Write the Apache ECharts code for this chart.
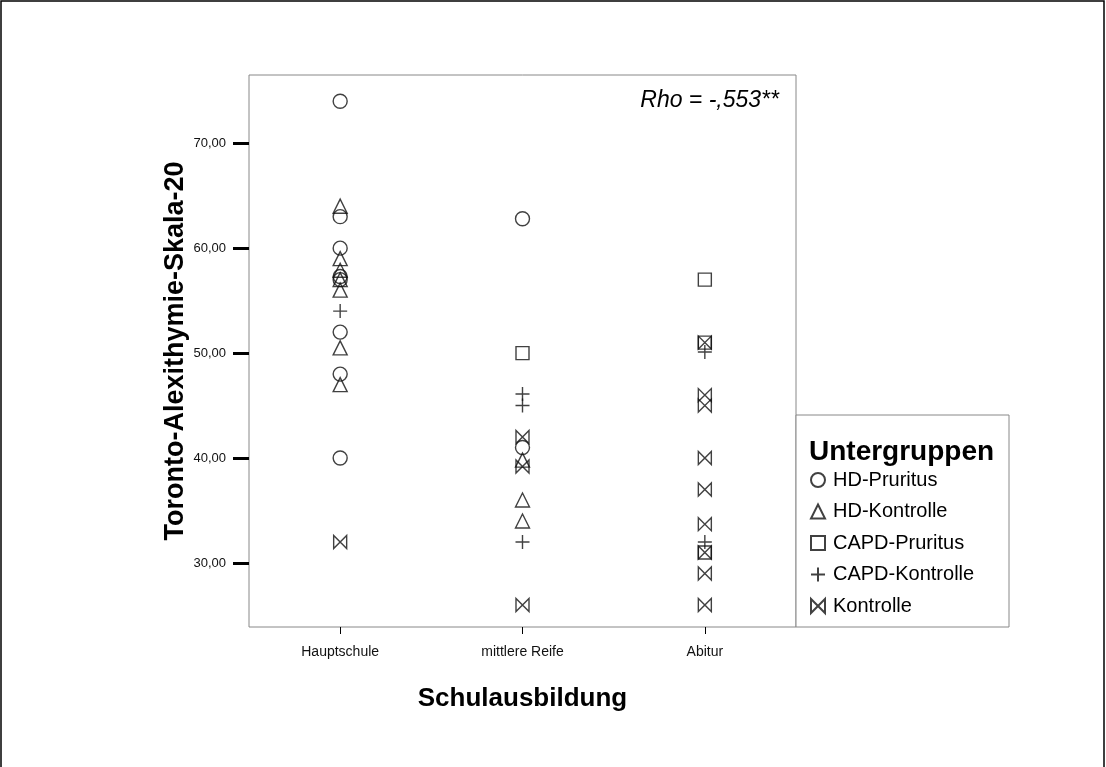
<!DOCTYPE html>
<html>
<head>
<meta charset="utf-8">
<script src="https://cdn.jsdelivr.net/npm/echarts@6/dist/echarts.min.js"></script>
<style>
html,body{margin:0;padding:0;background:#fff;}
#chart{width:1106px;height:767px;}
</style>
</head>
<body>
<div id="chart"></div>
<script>
// ---- data ----
var categories = ['Hauptschule', 'mittlere Reife', 'Abitur'];
var yTicks = [30, 40, 50, 60, 70];
var seriesNames = ['HD-Pruritus', 'HD-Kontrolle', 'CAPD-Pruritus', 'CAPD-Kontrolle', 'Kontrolle'];
var hdPruritus = [
  ['Hauptschule', 74], ['Hauptschule', 63], ['Hauptschule', 60], ['Hauptschule', 57.3],
  ['Hauptschule', 57], ['Hauptschule', 52], ['Hauptschule', 48], ['Hauptschule', 40],
  ['mittlere Reife', 62.8], ['mittlere Reife', 41]
];
var hdKontrolle = [
  ['Hauptschule', 64], ['Hauptschule', 59], ['Hauptschule', 57.9], ['Hauptschule', 57],
  ['Hauptschule', 56], ['Hauptschule', 50.5], ['Hauptschule', 47],
  ['mittlere Reife', 39.8], ['mittlere Reife', 36], ['mittlere Reife', 34]
];
var capdPruritus = [
  ['mittlere Reife', 50],
  ['Abitur', 57], ['Abitur', 51], ['Abitur', 31]
];
var capdKontrolle = [
  ['Hauptschule', 54],
  ['mittlere Reife', 46.1], ['mittlere Reife', 45], ['mittlere Reife', 32],
  ['Abitur', 50.1], ['Abitur', 32]
];
var kontrolle = [
  ['Hauptschule', 32],
  ['mittlere Reife', 42], ['mittlere Reife', 39.2], ['mittlere Reife', 26],
  ['Abitur', 51], ['Abitur', 46], ['Abitur', 45], ['Abitur', 40], ['Abitur', 37],
  ['Abitur', 33.7], ['Abitur', 31], ['Abitur', 29], ['Abitur', 26]
];
var rhoText = 'Rho = -,553**';

// ---- chart ----
var FONT = '"Liberation Sans", Arial, sans-serif';
var plusPath = 'path://M5,0 L5,10 M0,5 L10,5';
var bowtiePath = 'path://M0,0 L0,10 L10,0 L10,10 Z';
var emptyStyle = {color: 'rgba(0,0,0,0)', borderColor: '#111', borderWidth: 1.4};

function mk(name, data, symbol, size) {
  return {
    name: name, type: 'scatter', data: data, symbol: symbol, symbolSize: size,
    itemStyle: emptyStyle, emphasis: {disabled: true}, animation: false, z: 3
  };
}

var chart = echarts.init(document.getElementById('chart'));
chart.setOption({
  animation: false,
  backgroundColor: '#fff',
  grid: {left: 249, right: 310, top: 75, bottom: 140, show: true,
    borderColor: '#888', borderWidth: 1, backgroundColor: '#fff'},
  xAxis: {
    type: 'category', data: categories, boundaryGap: true,
    axisLine: {show: false},
    axisTick: {show: true, alignWithLabel: true, length: 7, lineStyle: {color: '#000', width: 1}},
    axisLabel: {color: '#111', fontSize: 14, fontFamily: FONT, margin: 18},
    name: 'Schulausbildung', nameLocation: 'middle', nameGap: 59,
    nameTextStyle: {fontSize: 26, fontWeight: 'bold', color: '#000', fontFamily: FONT}
  },
  yAxis: {
    type: 'value', min: 23.9, max: 76.5,
    splitLine: {show: false},
    axisLine: {show: false},
    axisTick: {show: true, length: 16, customValues: yTicks, lineStyle: {color: '#000', width: 3}},
    axisLabel: {customValues: yTicks, color: '#111', fontSize: 13, fontFamily: FONT, margin: 23,
      formatter: function (v) { return v.toFixed(2).replace('.', ','); }},
    name: 'Toronto-Alexithymie-Skala-20', nameLocation: 'middle', nameGap: 60, nameRotate: 90,
    nameTextStyle: {fontSize: 27, fontWeight: 'bold', color: '#000', fontFamily: FONT}
  },
  legend: {
    orient: 'vertical', left: 805, top: 465, itemGap: 11.5, itemWidth: 14, itemHeight: 14,
    selectedMode: false, data: seriesNames,
    textStyle: {fontSize: 20, color: '#000', fontFamily: FONT, padding: [0, 0, 0, 3]}
  },
  graphic: [
    {type: 'rect', shape: {x: 1, y: 1, width: 1103, height: 780}, style: {fill: 'none', stroke: '#000', lineWidth: 1.5}, z: 0, silent: true},
    {type: 'rect', shape: {x: 796, y: 415, width: 213, height: 212}, style: {fill: '#fff', stroke: '#888', lineWidth: 1}, z: 1, silent: true},
    {type: 'text', left: 809, top: 438, z: 5, style: {text: 'Untergruppen', font: 'bold 28px ' + FONT, fill: '#000'}},
    {type: 'text', right: 1106 - 779, top: 89, z: 5, style: {text: rhoText, font: 'italic 23px ' + FONT, fill: '#000'}}
  ],
  series: [
    mk(seriesNames[0], hdPruritus, 'circle', 14),
    mk(seriesNames[1], hdKontrolle, 'triangle', 14),
    mk(seriesNames[2], capdPruritus, 'rect', 13),
    mk(seriesNames[3], capdKontrolle, plusPath, 14),
    mk(seriesNames[4], kontrolle, bowtiePath, 13)
  ]
});
</script>
</body>
</html>
